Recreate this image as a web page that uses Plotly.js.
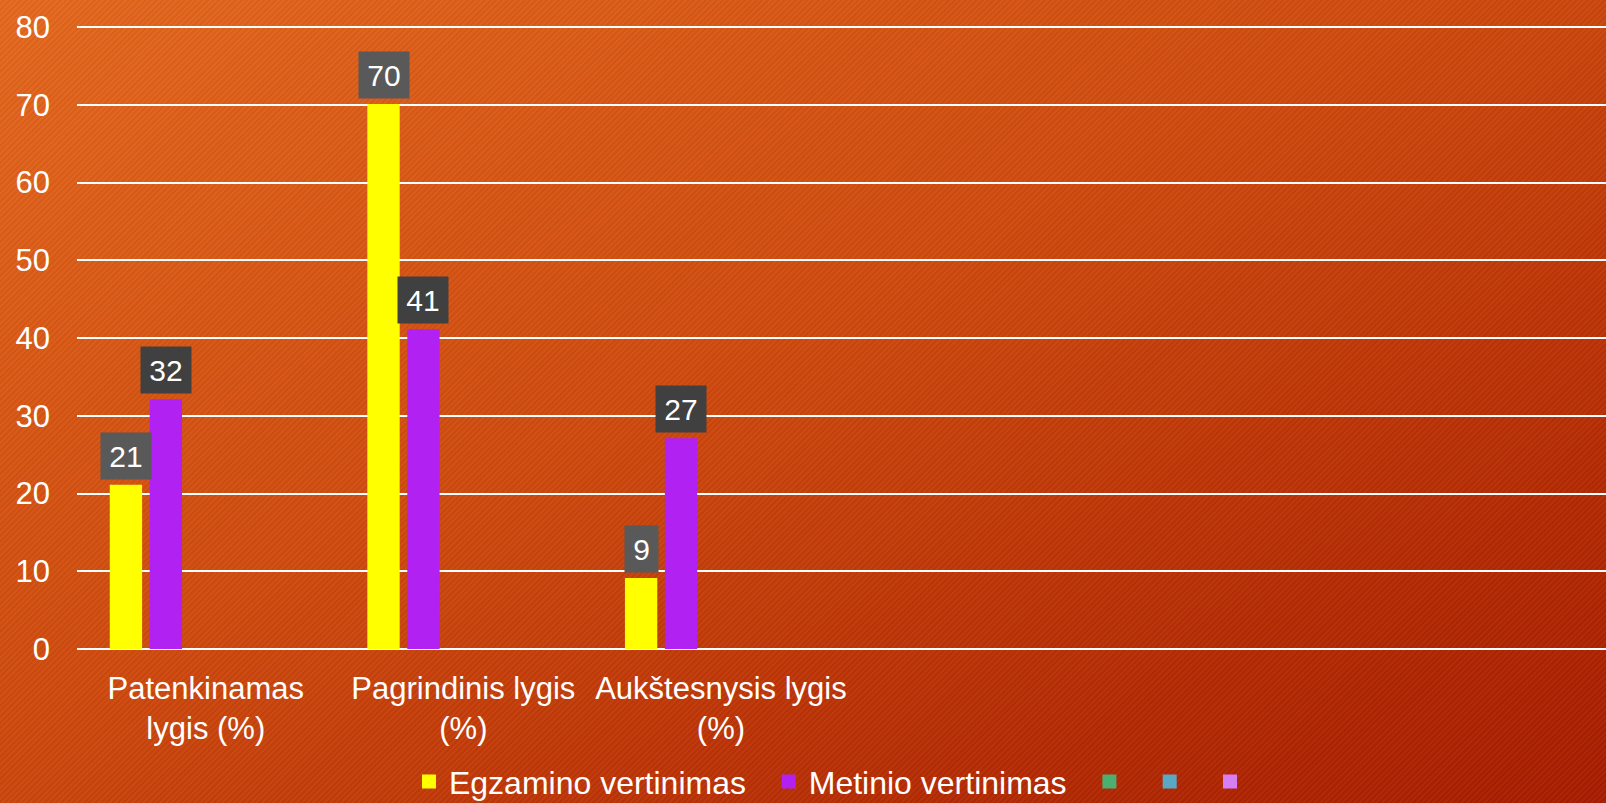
<!DOCTYPE html>
<html>
<head>
<meta charset="utf-8">
<script src="https://cdn.plot.ly/plotly-3.0.1.min.js"></script>
<style>
  html, body { margin: 0; padding: 0; width: 1606px; height: 803px; overflow: hidden; }
  body {
    background:
      repeating-linear-gradient(135deg, rgba(255,255,255,0.03) 0px, rgba(255,255,255,0.03) 2px, rgba(0,0,0,0.03) 2px, rgba(0,0,0,0.03) 4px),
      linear-gradient(to bottom right, #e4681e 0%, #cf4a0e 45%, #b42a03 80%, #a81c00 100%);
  }
  #chart { width: 1606px; height: 803px; }
</style>
</head>
<body>
<div id="chart"></div>
<script>
// ---- data ----
const categories = ["Patenkinamas lygis (%)", "Pagrindinis lygis (%)", "Aukštesnysis lygis (%)"];
const tickLabels = ["Patenkinamas<br>lygis (%)", "Pagrindinis lygis<br>(%)", "Aukštesnysis lygis<br>(%)"];
const egzaminoVertinimas = [21, 70, 9];
const metinioVertinimas = [32, 41, 27];
const seriesNames = ["Egzamino vertinimas", "Metinio vertinimas", "", "", ""];
const yTicks = [0, 10, 20, 30, 40, 50, 60, 70, 80];

// ---- style ----
const FONT = "Liberation Sans, Arial, sans-serif";
const colors = ["#ffff00", "#b122f2", "#4caf72", "#5aa9c4", "#d67ff5"];
const labelBg = ["#595959", "#404040"];
const legendPad = ["\u00a0\u00a0", "\u00a0\u00a0", "\u00a0\u2009", "\u00a0\u2009", "\u00a0\u2009"];
const xRangeMax = 5.436;
const bargap = 0.225;
const bargroupgap = 0.24;
const nTraces = seriesNames.length;

const seriesValues = [egzaminoVertinimas, metinioVertinimas,
  categories.map(() => null), categories.map(() => null), categories.map(() => null)];

const traces = seriesValues.map((vals, k) => ({
  type: "bar",
  name: seriesNames[k] + legendPad[k],
  x: categories,
  y: vals,
  marker: { color: colors[k], line: { color: colors[k], width: 2 } },
  hoverinfo: "skip",
  showlegend: true
}));

// data label annotations positioned from the bar layout parameters
const slotW = (1 - bargap) / nTraces;
const annotations = [];
[egzaminoVertinimas, metinioVertinimas].forEach((vals, k) => {
  vals.forEach((v, i) => {
    const xPos = i + (k - (nTraces - 1) / 2) * slotW;
    annotations.push({
      x: xPos, y: v, xref: "x", yref: "y",
      text: String(v),
      showarrow: false,
      yanchor: "bottom", xanchor: "center",
      yshift: 6,
      bgcolor: labelBg[k],
      borderpad: 4,
      width: String(v).length * 17 + 8,
      height: 38,
      font: { family: FONT, size: 30, color: "#ffffff" }
    });
  });
});

const layout = {
  width: 1606, height: 803,
  paper_bgcolor: "rgba(0,0,0,0)",
  plot_bgcolor: "rgba(0,0,0,0)",
  margin: { l: 77, r: 0, t: 26, b: 154, autoexpand: false },
  barmode: "group",
  bargap: bargap,
  bargroupgap: bargroupgap,
  font: { family: FONT, size: 30, color: "#ffffff" },
  showlegend: true,
  legend: {
    orientation: "h",
    x: 0.499, xanchor: "center",
    y: -0.213, yanchor: "middle",
    font: { family: FONT, size: 32, color: "#ffffff" },
    bgcolor: "rgba(0,0,0,0)",
    traceorder: "normal"
  },
  xaxis: {
    type: "category",
    range: [-0.5, xRangeMax],
    tickmode: "array",
    tickvals: categories,
    ticktext: tickLabels,
    showgrid: false,
    showline: false,
    zeroline: false,
    ticks: "",
    ticklabelstandoff: 18,
    automargin: false,
    tickfont: { family: FONT, size: 31, color: "#ffffff" }
  },
  yaxis: {
    range: [0, 80.15],
    tickmode: "array",
    tickvals: yTicks,
    showgrid: true,
    gridcolor: "#ffffff",
    gridwidth: 2,
    zeroline: true,
    zerolinecolor: "#ffffff",
    zerolinewidth: 2,
    showline: false,
    ticks: "",
    ticklabelstandoff: 26,
    automargin: false,
    tickfont: { family: FONT, size: 31, color: "#ffffff" }
  },
  annotations: annotations
};

Plotly.newPlot("chart", traces, layout, { displayModeBar: false, staticPlot: true });
</script>
</body>
</html>
